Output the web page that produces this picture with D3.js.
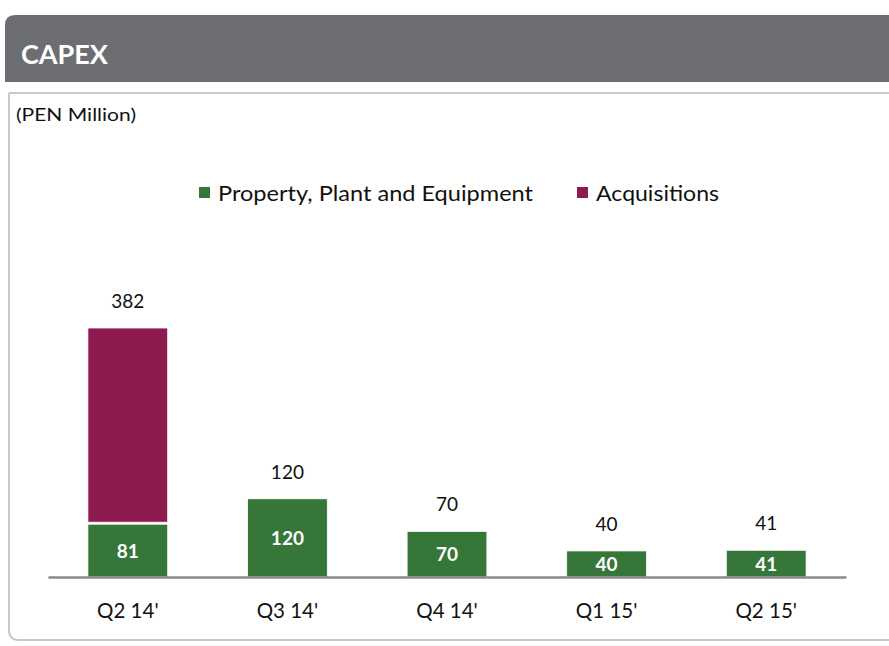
<!DOCTYPE html>
<html>
<head>
<meta charset="utf-8">
<script src="https://cdn.jsdelivr.net/npm/d3@7"></script>
<style>
  html, body { margin: 0; padding: 0; background: #fff; }
  svg { display: block; }
  text { font-family: Lato, "Open Sans", sans-serif; }
</style>
</head>
<body>
<svg id="chart" width="889" height="646"></svg>
<script>
// CAPEX by quarter (PEN million)
const quarters = ["Q2 14'", "Q3 14'", "Q4 14'", "Q1 15'", "Q2 15'"];
const ppe = [81, 120, 70, 40, 41];
const acquisitions = [301, 0, 0, 0, 0];
const totals = [382, 120, 70, 40, 41];
const seriesNames = ["Property, Plant and Equipment", "Acquisitions"];
const seriesColors = ["#367639", "#8e1b4f"];

const svg = d3.select("#chart");

// Header band
svg.append("path")
  .attr("d", "M5,82 L5,25 Q5,15 15,15 L889,15 L889,82 Z")
  .attr("fill", "#6d6e71");
svg.append("text")
  .attr("x", 21).attr("y", 64)
  .attr("fill", "#fff")
  .attr("font-size", 27).attr("font-weight", "bold")
  .text("CAPEX");

// Content panel
svg.append("path")
  .attr("d", "M9,93 L889,93 M9,93 L9,630 Q9,640 19,640 L889,640")
  .attr("fill", "none")
  .attr("stroke", "#c9c9c9")
  .attr("stroke-width", 2);
svg.append("text")
  .attr("x", 16).attr("y", 121)
  .attr("fill", "#111")
  .attr("font-size", 18)
  .attr("textLength", 120)
  .attr("lengthAdjust", "spacingAndGlyphs")
  .text("(PEN Million)");

// Legend
const legend = svg.append("g");
const legendX = [199, 577];
const legendWidths = [315, 123];
seriesNames.forEach((name, i) => {
  legend.append("rect")
    .attr("x", legendX[i]).attr("y", 187)
    .attr("width", 11).attr("height", 11)
    .attr("fill", seriesColors[i]);
  legend.append("text")
    .attr("x", legendX[i] + 19).attr("y", 201)
    .attr("fill", "#111")
    .attr("font-size", 21)
    .attr("textLength", legendWidths[i])
    .attr("lengthAdjust", "spacingAndGlyphs")
    .text(name);
});

// Scales
const baseY = 577;
const x = d3.scaleBand().domain(quarters).range([48, 846]).paddingInner(0.5).paddingOuter(0.25);
const y = d3.scaleLinear().domain([0, 382]).range([baseY, 328]);

const rows = quarters.map((q, i) => ({ q, ppe: ppe[i], acquisitions: acquisitions[i], total: totals[i] }));
const stacked = d3.stack().keys(["ppe", "acquisitions"])(rows);

const bars = svg.append("g");
stacked.forEach((layer, li) => {
  bars.selectAll(null)
    .data(layer.filter(d => d[1] > d[0]))
    .join("rect")
    .attr("x", d => x(d.data.q))
    .attr("width", x.bandwidth())
    .attr("y", d => y(d[1]))
    .attr("height", d => y(d[0]) - y(d[1]) - (li > 0 ? 2 : 0))
    .attr("fill", seriesColors[li])
    .attr("stroke", "#fff")
    .attr("stroke-width", 0.8);
});

// Value labels inside the green segments
svg.append("g").selectAll("text")
  .data(rows)
  .join("text")
  .attr("x", d => x(d.q) + x.bandwidth() / 2)
  .attr("y", d => (y(0) + y(d.ppe)) / 2 + 7)
  .attr("text-anchor", "middle")
  .attr("fill", "#fff")
  .attr("font-size", 19).attr("font-weight", "bold")
  .text(d => d.ppe);

// Totals above bars
svg.append("g").selectAll("text")
  .data(rows)
  .join("text")
  .attr("x", d => x(d.q) + x.bandwidth() / 2)
  .attr("y", d => y(d.total) - 20)
  .attr("text-anchor", "middle")
  .attr("fill", "#111")
  .attr("font-size", 19)
  .text(d => d.total);

// Category axis
const xAxis = svg.append("g")
  .attr("transform", `translate(0,${baseY})`)
  .call(d3.axisBottom(x).tickSize(0).tickPadding(26));
xAxis.select(".domain").attr("stroke", "#8a8a8a").attr("stroke-width", 2.5);
xAxis.selectAll(".tick text")
  .attr("fill", "#111")
  .attr("font-size", 20.5)
  .style("font-family", "Lato, 'Open Sans', sans-serif");
</script>
</body>
</html>
